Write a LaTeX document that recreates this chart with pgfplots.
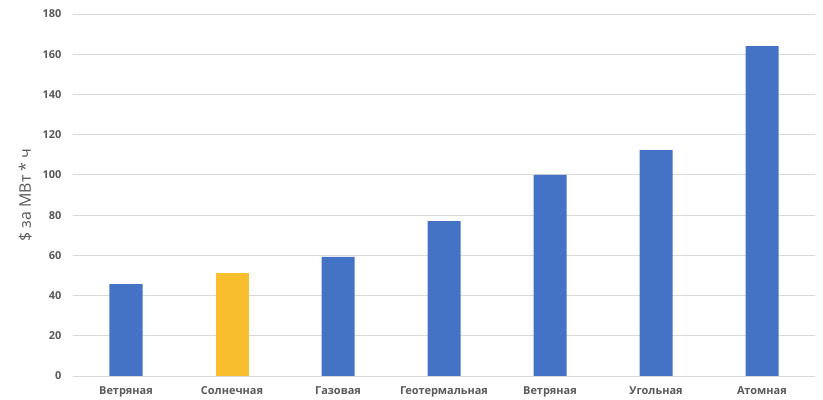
\documentclass[border=0pt]{standalone}
\usepackage{fontspec}
\setmainfont{Open Sans}
\usepackage{pgfplots}
\pgfplotsset{compat=1.18}
\definecolor{barblue}{HTML}{4472C4}
\definecolor{baryellow}{HTML}{F9BE2E}
\definecolor{txtgray}{HTML}{595959}
\definecolor{gridgray}{HTML}{D9D9D9}
\begin{document}
\begin{tikzpicture}
  \path[use as bounding box] (-73bp,-24bp) rectangle (750bp,376bp);
  \begin{axis}[
    at={(0,0)}, anchor=south west,
    scale only axis,
    width=742bp, height=362bp,
    xmin=-0.5, xmax=6.5,
    ymin=0, ymax=180,
    ytick={0,20,...,180},
    xtick={0,...,6},
    xticklabels={Ветряная,Солнечная,Газовая,Геотермальная,Ветряная,Угольная,Атомная},
    axis line style={draw=none},
    axis x line*=bottom,
    x axis line style={draw=gridgray},
    ymajorgrids=true,
    grid style={gridgray, line width=0.8pt},
    major tick length=0pt,
    tick style={draw=none},
    ticklabel style={font=\fontsize{11}{13}\selectfont\bfseries, text=txtgray},
    /pgf/number format/assume math mode=true,
    ylabel={\$ за МВт * ч},
    ylabel style={font=\fontsize{16}{18}\selectfont, text=txtgray, yshift=4bp},
    yticklabel style={xshift=-8bp},
    xticklabel style={yshift=-7bp},
    ybar, bar width=33bp,
  ]
    \addplot[fill=barblue, draw=none, bar shift=0pt] coordinates {
      (0,45.7) (2,59.2) (3,77) (4,100) (5,112.3) (6,164)
    };
    \addplot[fill=baryellow, draw=none, bar shift=0pt] coordinates {
      (1,51.3)
    };
  \end{axis}
\end{tikzpicture}
\end{document}
